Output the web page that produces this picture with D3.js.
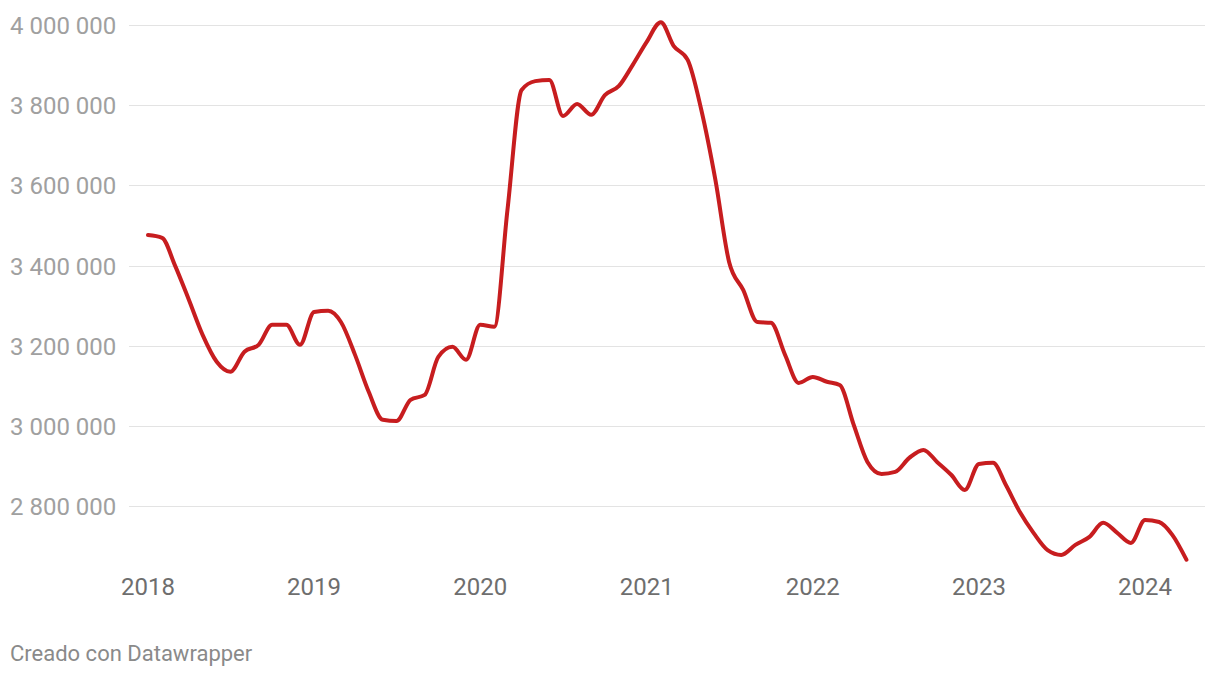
<!DOCTYPE html>
<html lang="es">
    <head>
        <meta charset="utf-8">
        <title>Line chart</title>
        <script type="text/javascript" src="https://cdn.jsdelivr.net/npm/d3@7"></script>
        <style>
            body { margin: 0; background: #fff; font-family: Roboto, "Noto Sans", sans-serif; }
        </style>
    </head>
    <body>
        <script type="text/javascript">
            // monthly values, Jan 2018 .. Apr 2024
            var startYear = 2018;
            var values = [
                3476000, 3469000, 3401000, 3314000, 3227000, 3160000, 3135000, 3185000, 3202000, 3252000, 3252000, 3202000,
                3284000, 3287000, 3259000, 3177000, 3085000, 3015000, 3012000, 3065000, 3077000, 3172000, 3197000, 3165000,
                3252000, 3247000, 3539000, 3838000, 3860000, 3863000, 3773000, 3803000, 3776000, 3825000, 3848000, 3900000,
                3958000, 4007000, 3948000, 3913000, 3788000, 3613000, 3409000, 3339000, 3259000, 3257000, 3177000, 3107000,
                3122000, 3110000, 3102000, 3002000, 2910000, 2880000, 2885000, 2920000, 2940000, 2910000, 2878000, 2840000,
                2905000, 2908000, 2853000, 2785000, 2733000, 2690000, 2678000, 2703000, 2723000, 2758000, 2733000, 2708000,
                2765000, 2760000, 2728000, 2666000
            ];
            var yTicks = [2800000, 3000000, 3200000, 3400000, 3600000, 3800000, 4000000];
            var xTicks = [2018, 2019, 2020, 2021, 2022, 2023, 2024];

            var data = values.map(function(v, i) {
                return { date: new Date(startYear, i, 1), value: v };
            });

            //canvas
            var w = 1220;
            var h = 678;

            var svg = d3.select("body")
                        .append("svg")
                        .attr("width", w)
                        .attr("height", h);

            var xScale = d3.scaleTime()
                            .domain([new Date(2018, 0, 1), new Date(2024, 0, 1)])
                            .range([148, 1145]);

            var yScale = d3.scaleLinear()
                            .domain([2800000, 4000000])
                            .range([506, 25]);

            var fmt = function(d) {
                return d3.format(",")(d).replace(/,/g, " ");
            };

            // gridlines
            svg.selectAll("line.grid")
                .data(yTicks)
                .enter()
                .append("line")
                .attr("class", "grid")
                .attr("x1", 129)
                .attr("x2", 1205)
                .attr("y1", function(d) { return Math.round(yScale(d)) + 0.5; })
                .attr("y2", function(d) { return Math.round(yScale(d)) + 0.5; })
                .attr("stroke", "#e3e3e3")
                .attr("stroke-width", 1);

            // y labels
            svg.selectAll("text.ylab")
                .data(yTicks)
                .enter()
                .append("text")
                .attr("class", "ylab")
                .text(fmt)
                .attr("x", 10)
                .attr("y", function(d) { return yScale(d); })
                .attr("dy", "0.38em")
                .attr("font-size", "24px")
                .attr("fill", "#a0a0a0");

            // x labels
            svg.selectAll("text.xlab")
                .data(xTicks)
                .enter()
                .append("text")
                .attr("class", "xlab")
                .text(function(d) { return d; })
                .attr("x", function(d) { return xScale(new Date(d, 0, 1)); })
                .attr("y", 595)
                .attr("text-anchor", "middle")
                .attr("font-size", "24px")
                .attr("fill", "#6e6e6e");

            // line
            var line = d3.line()
                .x(function(d) { return xScale(d.date); })
                .y(function(d) { return yScale(d.value); })
                .curve(d3.curveMonotoneX);

            svg.append("path")
                .datum(data)
                .attr("d", line)
                .attr("fill", "none")
                .attr("stroke", "#c71d1f")
                .attr("stroke-width", 4)
                .attr("stroke-linejoin", "round")
                .attr("stroke-linecap", "round");

            // footer
            svg.append("text")
                .text("Creado con Datawrapper")
                .attr("x", 10)
                .attr("y", 661)
                .attr("font-size", "22px")
                .attr("fill", "#8a8a8a");
        </script>
    </body>
</html>
